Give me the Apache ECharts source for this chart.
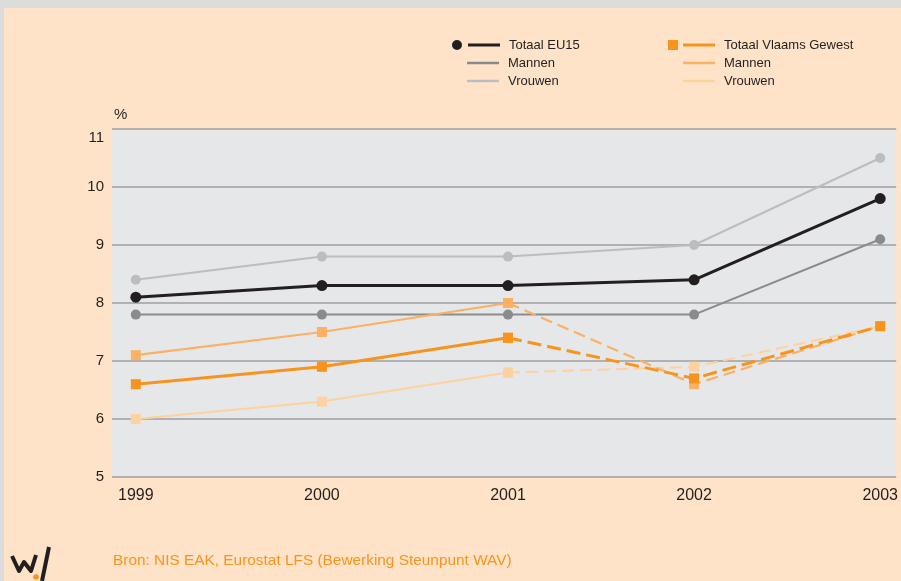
<!DOCTYPE html>
<html>
<head>
<meta charset="utf-8">
<script src="https://cdn.jsdelivr.net/npm/echarts@6/dist/echarts.min.js"></script>
<style>
  html, body { margin: 0; padding: 0; background: #dcdcdc; }
  #chart { position: absolute; left: 4px; top: 8px; width: 897px; height: 573px; }
</style>
</head>
<body>
<div id="chart"></div>
<script>
const years = [1999, 2000, 2001, 2002, 2003]
const yTicks = [5, 6, 7, 8, 9, 10, 11]

// EU15
const euTotal = [8.1, 8.3, 8.3, 8.4, 9.8]
const euMannen = [7.8, 7.8, 7.8, 7.8, 9.1]
const euVrouwen = [8.4, 8.8, 8.8, 9.0, 10.5]

// Vlaams Gewest (dashed from 2001 on)
const vgTotal = [6.6, 6.9, 7.4, 6.7, 7.6]
const vgMannen = [7.1, 7.5, 8.0, 6.6, 7.6]
const vgVrouwen = [6.0, 6.3, 6.8, 6.9, 7.6]

const labels = {
  euTotal: 'Totaal EU15',
  euMannen: 'Mannen',
  euVrouwen: 'Vrouwen',
  vgTotal: 'Totaal Vlaams Gewest',
  vgMannen: 'Mannen',
  vgVrouwen: 'Vrouwen',
}

const ink = '#231f20'
const font = 'Liberation Sans, Arial, sans-serif'

function pairs(values, from, to) {
  return years.slice(from, to).map((year, i) => [year, values[from + i]])
}

function euSeries(key, values, color, width, size) {
  return {
    name: key,
    type: 'line',
    data: pairs(values, 0, 5),
    symbol: 'circle',
    symbolSize: size,
    color,
    lineStyle: { color, width },
    itemStyle: { color },
    emphasis: { disabled: true },
  }
}

function vgSeries(key, values, color, width, dash) {
  const common = {
    type: 'line',
    symbol: 'rect',
    symbolSize: 10,
    color,
    itemStyle: { color },
    emphasis: { disabled: true },
  }
  return [
    { ...common, name: key, data: pairs(values, 0, 3), lineStyle: { color, width } },
    { ...common, name: key + '-dash', data: pairs(values, 2, 5), lineStyle: { color, width, type: dash } },
  ]
}

const legendText = {
  color: ink,
  fontFamily: font,
  fontSize: 13,
  lineHeight: 16,
  padding: [0, 0, 0, 4],
}

function legend(left, top, names, icon, itemWidth, itemHeight) {
  return {
    orient: 'vertical',
    left,
    top,
    itemGap: 2,
    itemWidth,
    itemHeight,
    icon,
    symbolKeepAspect: false,
    selectedMode: false,
    padding: 0,
    data: names,
    formatter: (name) => labels[name],
    textStyle: legendText,
    itemStyle: { borderWidth: 0 },
  }
}

const chart = echarts.init(document.getElementById('chart'))

chart.setOption({
  backgroundColor: '#fee3c8',
  animation: false,
  textStyle: { fontFamily: font },
  title: {
    text: 'Bron: NIS EAK, Eurostat LFS (Bewerking Steunpunt WAV)',
    left: 109,
    top: 545,
    padding: 0,
    textStyle: { color: '#f7941d', fontSize: 15.4, fontWeight: 'normal', fontFamily: font },
  },
  legend: [
    legend(448, 29, ['euTotal'], 'path://M0,5A5,5 0 1,1 10,5A5,5 0 1,1 0,5Z M16,3.5H48V6.5H16Z', 48, 10),
    legend(463, 47, ['euMannen', 'euVrouwen'], 'rect', 32, 2.5),
    legend(664, 29, ['vgTotal'], 'path://M0,0H10V10H0Z M15,3.5H47V6.5H15Z', 47, 10),
    legend(679, 47, ['vgMannen', 'vgVrouwen'], 'rect', 32, 2.5),
  ],
  grid: { left: 108, right: 0, top: 121, bottom: 104, backgroundColor: '#e6e7e9', show: true, borderWidth: 0 },
  xAxis: {
    type: 'value',
    min: 1998.872,
    max: 2003.086,
    axisLine: { show: false },
    axisTick: { show: false },
    splitLine: { show: false },
    axisLabel: {
      customValues: years,
      color: ink,
      fontSize: 16,
      margin: 11,
      formatter: (v) => String(v),
    },
  },
  yAxis: {
    type: 'value',
    min: 5,
    max: 11,
    interval: 1,
    name: '%',
    nameLocation: 'end',
    nameGap: 14,
    nameTextStyle: { color: ink, fontSize: 15, align: 'left', verticalAlign: 'middle', padding: [0, 0, 0, 2] },
    axisLine: { show: false },
    axisTick: { show: false },
    axisLabel: {
      color: ink,
      fontSize: 15,
      margin: 8,
      formatter: (v) => (v === 11 ? '{low|11}' : String(v)),
      rich: { low: { color: ink, fontSize: 15, padding: [18, 0, 0, 0] } },
    },
    splitLine: { lineStyle: { color: '#9d9fa2', width: 1.5 } },
  },
  graphic: [
    {
      type: 'polyline',
      shape: { points: [[8, 548], [15, 563], [20, 554], [27, 563], [32, 547]] },
      style: { stroke: ink, lineWidth: 4, fill: null, lineJoin: 'round' },
    },
    {
      type: 'line',
      shape: { x1: 45, y1: 539, x2: 38, y2: 573 },
      style: { stroke: ink, lineWidth: 4 },
    },
    {
      type: 'circle',
      shape: { cx: 32, cy: 569, r: 2.8 },
      style: { fill: '#f7941d' },
    },
  ],
  series: [
    euSeries('euVrouwen', euVrouwen, '#bcbdc0', 2, 10),
    euSeries('euMannen', euMannen, '#8a8b8d', 2, 10),
    euSeries('euTotal', euTotal, ink, 3, 11),
    ...vgSeries('vgVrouwen', vgVrouwen, '#fdd29f', 2, [12, 6]),
    ...vgSeries('vgMannen', vgMannen, '#fbb063', 2.2, [12, 6]),
    ...vgSeries('vgTotal', vgTotal, '#f7941d', 3, [14, 6]),
  ],
})
</script>
</body>
</html>
